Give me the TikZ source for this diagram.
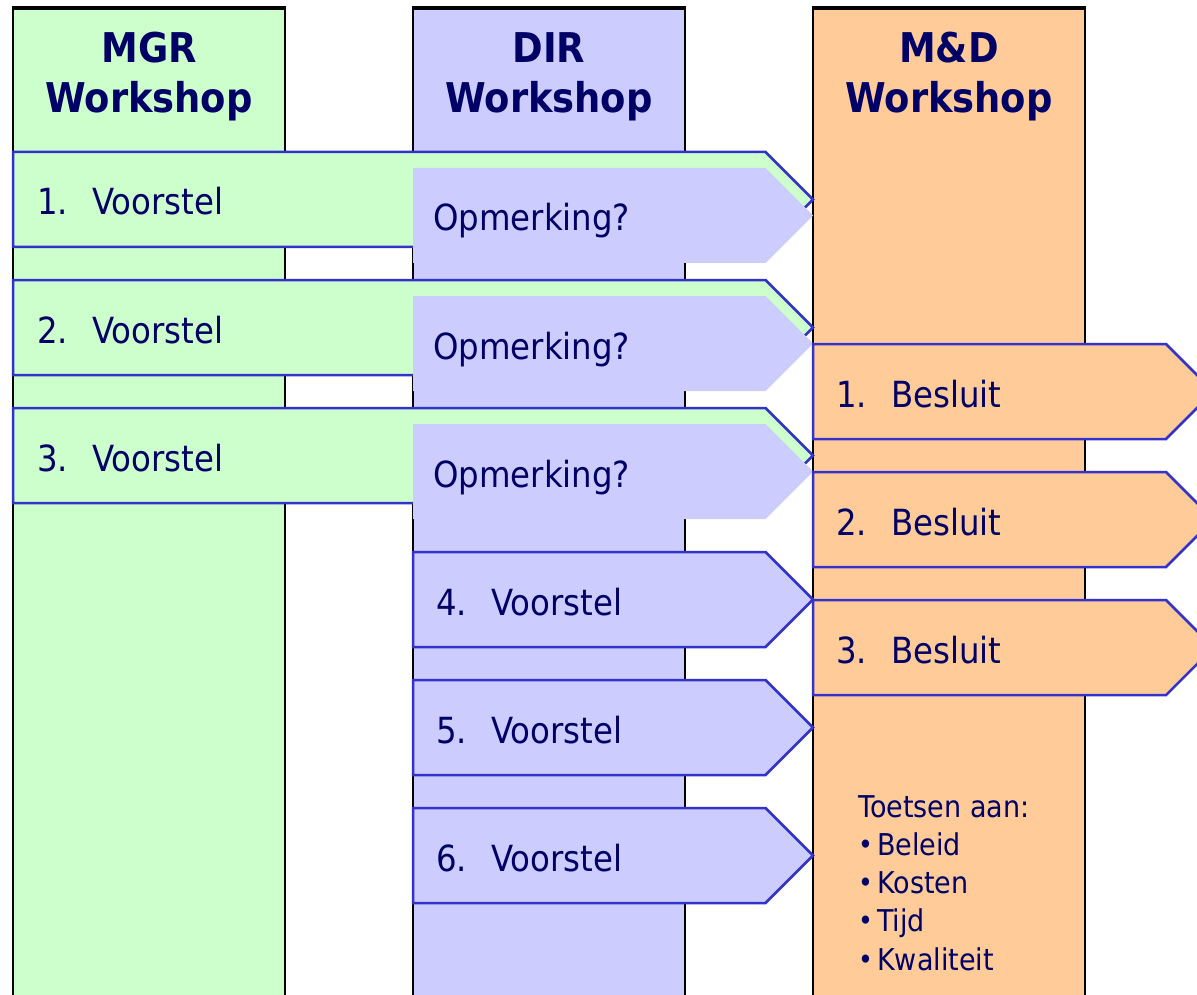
\documentclass[tikz,border=0pt]{standalone}
\usepackage{fontspec}
\setmainfont[FakeStretch=0.9]{DejaVu Sans}
\definecolor{cgreen}{HTML}{CCFFCC}
\definecolor{clav}{HTML}{CCCCFF}
\definecolor{corange}{HTML}{FFCC99}
\definecolor{cblue}{HTML}{3333CC}
\definecolor{cnavy}{HTML}{000066}
\newcommand\numtxt[2]{\makebox[55pt][l]{#1}#2}
\tikzset{
  column/.style={draw=black, line width=2.5pt},
  arrowline/.style={draw=cblue, line width=2.5pt, line join=miter},
  lbl/.style={anchor=base west, inner sep=0pt, text=cnavy, font=\fontsize{36}{43}\selectfont},
  head/.style={anchor=base, inner sep=0pt, text=cnavy, font=\fontsize{41}{50}\selectfont\bfseries},
  small/.style={anchor=base west, inner sep=0pt, text=cnavy, font=\fontsize{30}{36}\selectfont},
  bul/.style={anchor=base west, inner sep=0pt, text=cnavy, font=\fontsize{28}{32}\selectfont},
}
\begin{document}
\begin{tikzpicture}[x=1pt,y=-1pt]
\useasboundingbox (0,0) rectangle (1197,995);
\clip (0,0) rectangle (1197,995);
% columns
\path[column, fill=cgreen]  (13,8) rectangle (285,1010);
\path[column, fill=clav]    (413,8) rectangle (685,1010);
\path[column, fill=corange] (813,8) rectangle (1085,1010);
\draw[line width=3.5pt] (12,8) -- (286,8) (412,8) -- (686,8) (812,8) -- (1086,8);
% headings
\node[head] (h1a) at (149,63) {MGR};
\node[head] (h1b) at (149,113) {Workshop};
\node[head] (h2a) at (549,63) {DIR};
\node[head] (h2b) at (549,113) {Workshop};
\node[head] (h3a) at (949,63) {M\&D};
\node[head] (h3b) at (949,113) {Workshop};
% MGR proposals and DIR remarks
\foreach \y/\n in {152/1,280/2,408/3}{
  \path[arrowline, fill=cgreen] (13,\y) -- (765.5,\y) -- (813,{\y+47.5}) -- (765.5,{\y+95}) -- (13,{\y+95}) -- cycle;
  \path[fill=clav] (413,{\y+16}) -- (765.5,{\y+16}) -- (813,{\y+63.5}) -- (765.5,{\y+111}) -- (413,{\y+111}) -- cycle;
  \node[lbl] (mv\n) at (37,{\y+63}) {\numtxt{\n.}{Voorstel}};
  \node[lbl] (op\n) at (433,{\y+79}) {Opmerking?};
}
% DIR proposals
\foreach \y/\n in {552/4,680/5,808/6}{
  \path[arrowline, fill=clav] (413,\y) -- (765.5,\y) -- (813,{\y+47.5}) -- (765.5,{\y+95}) -- (413,{\y+95}) -- cycle;
  \node[lbl] (dv\n) at (436,{\y+63}) {\numtxt{\n.}{Voorstel}};
}
% M&D decisions
\foreach \y/\n in {344/1,472/2,600/3}{
  \path[arrowline, fill=corange] (813,\y) -- (1166,\y) -- (1213.5,{\y+47.5}) -- (1166,{\y+95}) -- (813,{\y+95}) -- cycle;
  \node[lbl] (md\n) at (836,{\y+63}) {\numtxt{\n.}{Besluit}};
}
% checklist
\node[small] (tt) at (858,817) {Toetsen aan:};
\foreach \t/\yy/\n in {Beleid/855/1,Kosten/893/2,Tijd/931/3,Kwaliteit/970/4}{
  \node[bul] (b\n) at (858,{\yy-1}) {•};
  \node[small] (t\n) at (877,\yy) {\t};
}
\end{tikzpicture}
\end{document}
